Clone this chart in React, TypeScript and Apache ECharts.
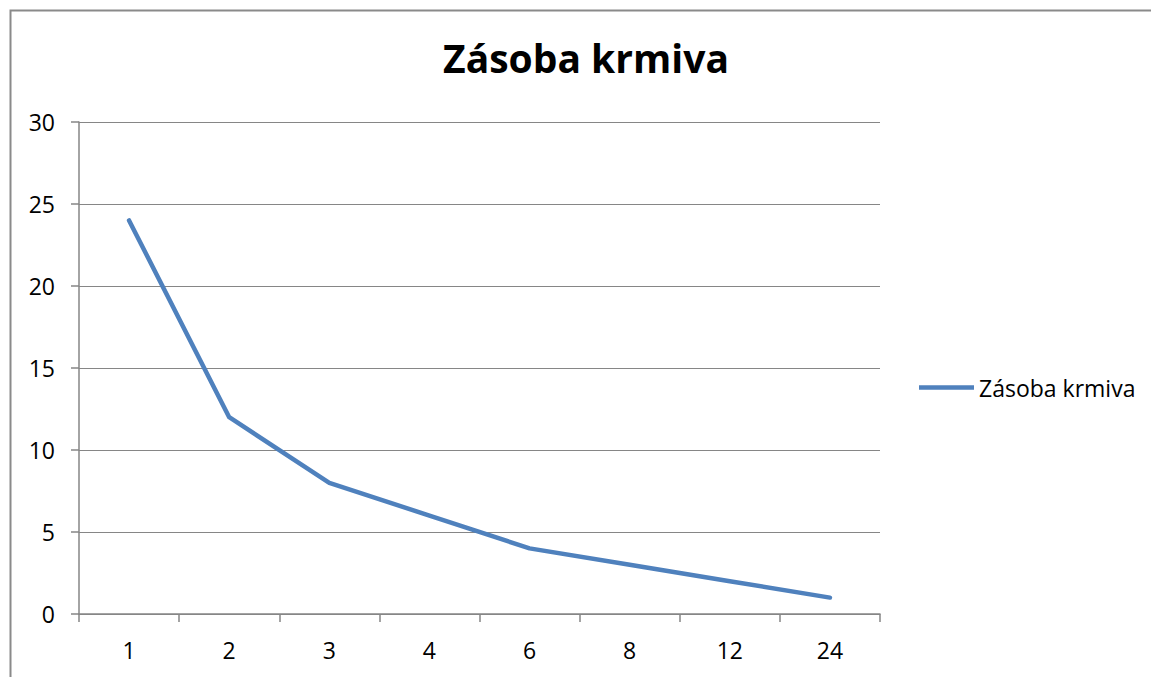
import React, { useEffect, useRef } from "react";
import * as echarts from "echarts";

const categories = ["1", "2", "3", "4", "6", "8", "12", "24"];
const values = [24, 12, 8, 6, 4, 3, 2, 1];
const seriesName = "Zásoba krmiva";
const chartTitle = "Zásoba krmiva";

export default function App() {
  const ref = useRef<HTMLDivElement>(null);
  useEffect(() => {
    if (!ref.current) return;
    const chart = echarts.init(ref.current, undefined, { renderer: "svg" });
    const font = "'Open Sans', 'Noto Sans', sans-serif";
    chart.setOption({
      animation: false,
      backgroundColor: "#ffffff",
      textStyle: { fontFamily: font },
      title: {
        text: chartTitle,
        left: 581,
        textAlign: "center",
        top: 33,
        textStyle: { fontFamily: font, fontWeight: "bold", fontSize: 39, color: "#000" },
      },
      graphic: [
        {
          type: "polyline",
          shape: { points: [[10.5, 677], [10.5, 10.5], [1151, 10.5]] },
          style: { stroke: "#8a8a8a", lineWidth: 2, fill: "none" },
          silent: true,
        },
      ],
      legend: {
        orient: "vertical",
        left: 914,
        top: 371,
        itemWidth: 55,
        itemHeight: 24,
        itemGap: 4,
        data: [{ name: seriesName, icon: "path://M0,0 L55,0 L55,4.5 L0,4.5 Z" }],
        textStyle: { fontFamily: font, fontSize: 23, color: "#000" },
      },
      grid: { left: 79, right: 271, top: 122, bottom: 63, containLabel: false },
      xAxis: {
        type: "category",
        data: categories,
        boundaryGap: true,
        axisLine: { lineStyle: { color: "#868686", width: 1.5 } },
        axisTick: { show: true, length: 8, inside: false, alignWithLabel: false, lineStyle: { color: "#868686", width: 1.5 } },
        axisLabel: { fontFamily: font, fontSize: 23, color: "#000", margin: 24 },
        splitLine: { show: false },
      },
      yAxis: {
        type: "value",
        min: 0,
        max: 30,
        interval: 5,
        axisLine: { show: true, lineStyle: { color: "#868686", width: 1.5 } },
        axisTick: { show: true, length: 8, lineStyle: { color: "#868686", width: 1.5 } },
        axisLabel: { fontFamily: font, fontSize: 23, color: "#000", margin: 24 },
        splitLine: { show: true, lineStyle: { color: "#868686", width: 1.2 } },
      },
      series: [
        {
          name: seriesName,
          type: "line",
          data: values,
          symbol: "none",
          lineStyle: { color: "#4F81BD", width: 4.5, cap: "round", join: "round" },
          itemStyle: { color: "#4F81BD" },
        },
      ],
    });
    return () => chart.dispose();
  }, []);
  return <div ref={ref} style={{ position: "fixed", left: 0, top: 0, width: 1151, height: 677, overflow: "hidden" }} />;
}
